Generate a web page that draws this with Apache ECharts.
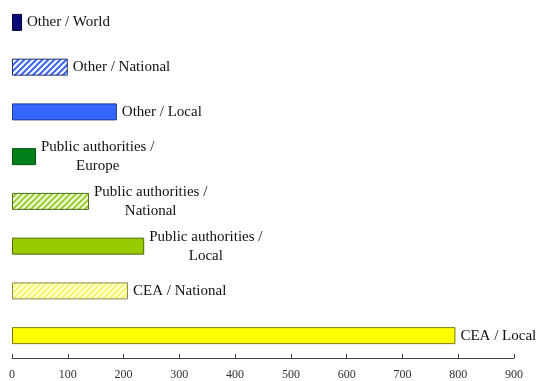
<!DOCTYPE html>
<html>
<head>
<meta charset="utf-8">
<script src="https://cdn.jsdelivr.net/npm/echarts@6/dist/echarts.min.js"></script>
<style>html,body{margin:0;padding:0;background:#fff}#c{width:538px;height:381px}</style>
</head>
<body>
<div id="c"></div>
<script>
var categories = ["Other / World", "Other / National", "Other / Local", "Public authorities /\nEurope", "Public authorities /\nNational", "Public authorities /\nLocal", "CEA / National", "CEA / Local"];
var values = [18, 100, 188, 43, 138, 237, 208, 795];
var xTicks = [0, 100, 200, 300, 400, 500, 600, 700, 800, 900];

function hatch(fg, bg) {
  var c = document.createElement('canvas');
  c.width = 6; c.height = 6;
  var g = c.getContext('2d');
  g.fillStyle = bg; g.fillRect(0, 0, 6, 6);
  g.strokeStyle = fg; g.lineWidth = 2;
  g.beginPath();
  g.moveTo(-1, 7); g.lineTo(7, -1);
  g.moveTo(-4, 4); g.lineTo(4, -4);
  g.moveTo(2, 10); g.lineTo(10, 2);
  g.stroke();
  return { image: c, repeat: 'repeat' };
}

var styles = [
  { color: '#0a0a78', borderColor: '#00003a' },
  { color: hatch('#3a66f0', '#ffffff'), borderColor: '#1e2f70' },
  { color: '#3366ff', borderColor: '#1f3a90' },
  { color: '#00801a', borderColor: '#00500f' },
  { color: hatch('#9acd32', '#f4fbd8'), borderColor: '#4f6a18' },
  { color: '#99cc00', borderColor: '#4f6a00' },
  { color: hatch('#f5f56a', '#ffffd8'), borderColor: '#8a8a50' },
  { color: '#ffff00', borderColor: '#7a7a00' }
];

var data = values.map(function (v, i) {
  return { value: v, itemStyle: { color: styles[i].color, borderColor: styles[i].borderColor, borderWidth: 1 } };
});

var chart = echarts.init(document.getElementById('c'), null, { renderer: 'canvas' });
chart.setOption({
  animation: false,
  backgroundColor: '#ffffff',
  grid: { left: 12, right: 24, top: -2, bottom: 21, containLabel: false },
  xAxis: {
    type: 'value', min: 0, max: 900, interval: 100,
    axisLine: { show: true, lineStyle: { color: '#444', width: 1 } },
    axisTick: { show: true, inside: true, length: 4, lineStyle: { color: '#444' } },
    axisLabel: {
      margin: 11, color: '#333', fontFamily: 'Liberation Serif', fontSize: 12,
      formatter: function (v) { return xTicks.indexOf(v) >= 0 ? String(v) : ''; }
    },
    splitLine: { show: false }
  },
  yAxis: {
    type: 'category', data: categories, inverse: true,
    axisLine: { show: false }, axisTick: { show: false }, axisLabel: { show: false }, splitLine: { show: false }
  },
  series: [{
    type: 'bar', data: data, barWidth: 17,
    label: {
      show: true, position: 'right', distance: 5,
      fontFamily: 'Liberation Serif', fontSize: 15, color: '#111', lineHeight: 19,
      formatter: function (p) {
        return p.name.split('\n').map(function (s) { return '{c|' + s + '}'; }).join('\n');
      },
      rich: { c: { align: 'center', fontFamily: 'Liberation Serif', fontSize: 15, color: '#111', lineHeight: 19 } }
    }
  }]
});
</script>
</body>
</html>
